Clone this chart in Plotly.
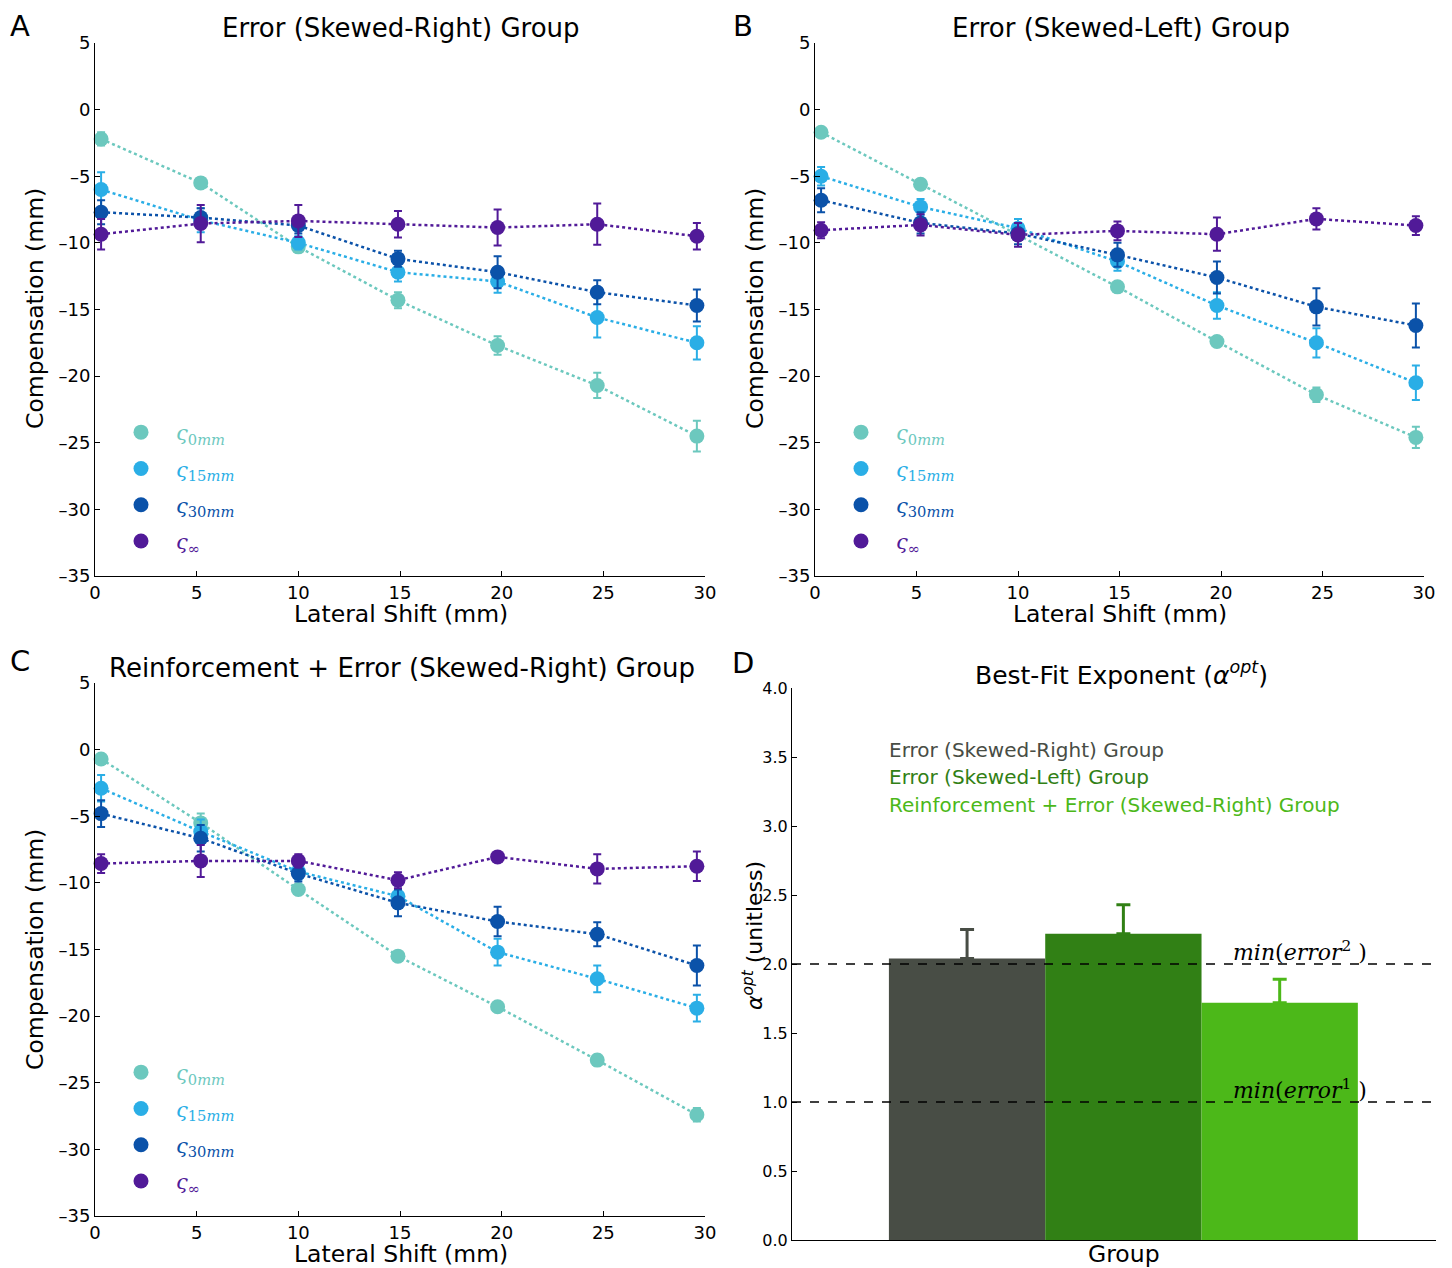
import plotly.graph_objects as go

# page offset of the plot div inside the browser page (default body margin)
OFF = 8
W, H = 1444, 1260

# ---------------- data ----------------
shift = [0.3, 5.2, 10.0, 14.9, 19.8, 24.7, 29.6]

series_keys = ["0mm", "15mm", "30mm", "inf"]
series_colors = ["#6CC8BE", "#2AAEE6", "#0B52A9", "#511A98"]
series_labels = [
    "<i>ς</i><sub>0<i>mm</i></sub>",
    "<i>ς</i><sub>15<i>mm</i></sub>",
    "<i>ς</i><sub>30<i>mm</i></sub>",
    "<i>ς</i><sub>∞</sub>",
]

# Panel A: Error (Skewed-Right) Group
a_0mm = [-2.2, -5.5, -10.3, -14.3, -17.7, -20.7, -24.5]
a_0mm_err = [0.5, 0.2, 0.4, 0.6, 0.7, 0.95, 1.15]
a_15mm = [-6.0, -8.3, -10.0, -12.2, -12.9, -15.6, -17.5]
a_15mm_err = [1.3, 0.9, 0.5, 0.7, 0.85, 1.5, 1.25]
a_30mm = [-7.7, -8.1, -8.7, -11.2, -12.2, -13.7, -14.7]
a_30mm_err = [0.9, 0.7, 0.6, 0.6, 1.2, 0.9, 1.2]
a_inf = [-9.35, -8.55, -8.35, -8.6, -8.85, -8.6, -9.5]
a_inf_err = [1.15, 1.4, 1.2, 1.0, 1.35, 1.55, 1.0]

# Panel B: Error (Skewed-Left) Group
b_0mm = [-1.7, -5.6, -9.4, -13.3, -17.4, -21.4, -24.6]
b_0mm_err = [0.2, 0.2, 0.4, 0.3, 0.3, 0.55, 0.8]
b_15mm = [-5.0, -7.3, -8.9, -11.4, -14.7, -17.5, -20.5]
b_15mm_err = [0.7, 0.6, 0.7, 0.7, 1.0, 1.1, 1.3]
b_30mm = [-6.8, -8.5, -9.3, -10.9, -12.6, -14.8, -16.2]
b_30mm_err = [0.9, 0.8, 0.8, 0.9, 1.2, 1.4, 1.65]
b_inf = [-9.05, -8.65, -9.4, -9.1, -9.35, -8.2, -8.7]
b_inf_err = [0.6, 0.8, 0.9, 0.7, 1.25, 0.8, 0.7]

# Panel C: Reinforcement + Error (Skewed-Right) Group
c_0mm = [-0.7, -5.5, -10.5, -15.5, -19.3, -23.3, -27.4]
c_0mm_err = [0.2, 0.7, 0.3, 0.2, 0.3, 0.4, 0.5]
c_15mm = [-2.9, -6.15, -9.15, -11.0, -15.2, -17.2, -19.4]
c_15mm_err = [1.0, 0.9, 0.6, 0.8, 1.0, 1.0, 1.0]
c_30mm = [-4.8, -6.65, -9.3, -11.5, -12.9, -13.85, -16.2]
c_30mm_err = [1.0, 1.0, 0.6, 1.0, 1.1, 0.9, 1.5]
c_inf = [-8.55, -8.35, -8.35, -9.8, -8.05, -8.95, -8.75]
c_inf_err = [0.7, 1.2, 0.5, 0.6, 0.3, 1.1, 1.1]

# Panel D: best-fit exponent
groups = ["Error (Skewed-Right) Group", "Error (Skewed-Left) Group",
          "Reinforcement + Error (Skewed-Right) Group"]
alpha_opt = [2.04, 2.22, 1.72]
alpha_err = [0.21, 0.21, 0.17]
group_colors = ["#484D45", "#318015", "#4CB819"]
ref_exponents = [2, 1]

x_ticks = [0, 5, 10, 15, 20, 25, 30]
y_ticks = [5, 0, -5, -10, -15, -20, -25, -30, -35]
y_ticktext = ["5", "0", "–5", "–10", "–15", "–20", "–25", "–30", "–35"]
d_ticks = [0.0, 0.5, 1.0, 1.5, 2.0, 2.5, 3.0, 3.5, 4.0]

panels = [
    dict(x="x", y="y", legend="legend",
         data=[(a_0mm, a_0mm_err), (a_15mm, a_15mm_err), (a_30mm, a_30mm_err), (a_inf, a_inf_err)]),
    dict(x="x2", y="y2", legend="legend2",
         data=[(b_0mm, b_0mm_err), (b_15mm, b_15mm_err), (b_30mm, b_30mm_err), (b_inf, b_inf_err)]),
    dict(x="x3", y="y3", legend="legend3",
         data=[(c_0mm, c_0mm_err), (c_15mm, c_15mm_err), (c_30mm, c_30mm_err), (c_inf, c_inf_err)]),
]

def px(x):
    return (x - OFF) / W

def py(y):
    return 1 - (y - OFF) / H

fig = go.Figure()

for p in panels:
    for (vals, errs), col in zip(p["data"], series_colors):
        fig.add_trace(go.Scatter(
            x=shift, y=vals, mode="lines", xaxis=p["x"], yaxis=p["y"],
            line=dict(color=col, width=2.5, dash="dot"),
            showlegend=False, hoverinfo="skip", cliponaxis=False))
    for i, ((vals, errs), col, lab) in enumerate(zip(p["data"], series_colors, series_labels)):
        fig.add_trace(go.Scatter(
            x=shift, y=vals, mode="markers", xaxis=p["x"], yaxis=p["y"],
            marker=dict(color=col, size=15),
            error_y=dict(type="data", array=errs, color=col, thickness=2, width=4),
            name=f"<span style='color:{col}'>{lab}</span>",
            legend=p["legend"], legendgroup=p["legend"] + series_keys[i],
            showlegend=True, cliponaxis=False))

for g, a, e, col, i in zip(groups, alpha_opt, alpha_err, group_colors, range(3)):
    fig.add_trace(go.Bar(
        x=[i], y=[a], width=1, xaxis="x4", yaxis="y4",
        marker=dict(color=col, line=dict(width=0)),
        error_y=dict(type="data", array=[e], arrayminus=[0], symmetric=False,
                     color=col, thickness=3, width=7),
        showlegend=False, name=g))

def axis(size=18, **kw):
    d = dict(showline=True, linecolor="black", linewidth=1, mirror=False,
             ticks="inside", ticklen=5, tickcolor="black", showgrid=False,
             zeroline=False, tickfont=dict(family="DejaVu Sans", size=size, color="black"),
             automargin=False)
    d.update(kw)
    return d

xA = [px(95), px(705)]
xB = [px(815), px(1424)]
yTop = [py(576), py(43)]
yBot = [py(1216), py(683)]

layout = dict(
    width=W, height=H, margin=dict(l=0, r=0, t=0, b=0),
    paper_bgcolor="white", plot_bgcolor="white", barmode="overlay",
    xaxis=axis(domain=xA, anchor="y", range=[0, 30], tickvals=x_ticks),
    yaxis=axis(domain=yTop, anchor="x", range=[-35, 5], tickvals=y_ticks, ticktext=y_ticktext),
    xaxis2=axis(domain=xB, anchor="y2", range=[0, 30], tickvals=x_ticks),
    yaxis2=axis(domain=yTop, anchor="x2", range=[-35, 5], tickvals=y_ticks, ticktext=y_ticktext),
    xaxis3=axis(domain=xA, anchor="y3", range=[0, 30], tickvals=x_ticks),
    yaxis3=axis(domain=yBot, anchor="x3", range=[-35, 5], tickvals=y_ticks, ticktext=y_ticktext),
    xaxis4=axis(domain=[px(792), px(1436)], anchor="y4", range=[-1.12, 3.0],
                showticklabels=False, ticks=""),
    yaxis4=axis(size=16, domain=[py(1240), py(688)], anchor="x4", range=[0, 4],
                tickvals=d_ticks, tickformat=".1f"),
)

leg_common = dict(bgcolor="rgba(0,0,0,0)", borderwidth=0, traceorder="grouped",
                  tracegroupgap=6, itemsizing="trace", itemwidth=60,
                  font=dict(family="DejaVu Serif", size=21, color="black"),
                  xanchor="left", yanchor="top")
layout["legend"] = dict(x=px(106), y=py(412), **leg_common)
layout["legend2"] = dict(x=px(826), y=py(412), **leg_common)
layout["legend3"] = dict(x=px(106), y=py(1052), **leg_common)

fig.update_layout(**layout)

for r in ref_exponents:
    fig.add_shape(type="line", xref="x4 domain", x0=0, x1=1, yref="y4", y0=r, y1=r,
                  line=dict(color="black", width=1.5, dash="dash"), layer="above")

ann = []
def text(x, y, s, size, color="black", xanchor="center", angle=0, family="DejaVu Sans",
         yanchor="middle"):
    ann.append(dict(x=px(x), y=py(y), xref="paper", yref="paper", text=s, showarrow=False,
                    xanchor=xanchor, yanchor=yanchor, textangle=angle, borderpad=0,
                    font=dict(family=family, size=size, color=color)))

text(20, 8, "A", 29, yanchor="top")
text(743, 8, "B", 29, yanchor="top")
text(20, 661, "C", 29)
text(743, 663, "D", 29)
text(401, 28, "Error (Skewed-Right) Group", 26)
text(1121, 28, "Error (Skewed-Left) Group", 26)
text(402, 668, "Reinforcement + Error (Skewed-Right) Group", 26)
text(1121, 673, "Best-Fit Exponent (<i>α</i><sup><i>opt</i></sup>)", 25)
text(401, 614, "Lateral Shift (mm)", 23.5)
text(1120, 614, "Lateral Shift (mm)", 23.5)
text(401, 1254, "Lateral Shift (mm)", 23.5)
text(1124, 1254, "Group", 23.5)
text(35, 309, "Compensation (mm)", 23.5, angle=-90)
text(755, 309, "Compensation (mm)", 23.5, angle=-90)
text(35, 950, "Compensation (mm)", 23.5, angle=-90)
text(753, 936, "<i>α</i><sup><i>opt</i></sup> (unitless)", 22, angle=-90)
for g, col, yy in zip(groups, group_colors, [750, 777, 805]):
    text(888, yy, g, 20, color=col, xanchor="left")
text(1368, 951, "<i>min</i>(<i>error</i><sup>2</sup> )", 22, xanchor="right", family="DejaVu Serif")
text(1368, 1089, "<i>min</i>(<i>error</i><sup>1</sup> )", 22, xanchor="right", family="DejaVu Serif")

fig.update_layout(annotations=ann)

fig.write_html("out.html")
